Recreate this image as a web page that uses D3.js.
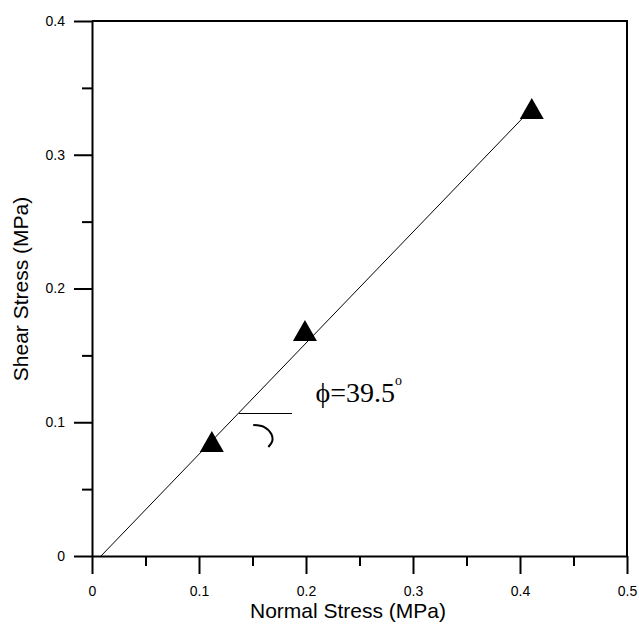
<!DOCTYPE html>
<html>
<head>
<meta charset="utf-8">
<script src="https://cdn.jsdelivr.net/npm/d3@7"></script>
<style>
  body { margin: 0; background: #fff; }
  svg { display: block; }
  .tick text { font-family: "Liberation Sans", Arial, sans-serif; font-size: 14px; fill: #000; }
</style>
</head>
<body>
<div id="chart"></div>
<script>
// measured points (normal stress, shear stress) in MPa
const normalStress = [0.112, 0.199, 0.411];
const shearStress = [0.083, 0.166, 0.332];

// failure envelope drawn through the points
const fitX = [0.0084, 0.402];
const fitY = [0, 0.327];

const xTicks = [0, 0.1, 0.2, 0.3, 0.4, 0.5];
const xTickLabels = ["0", "0.1", "0.2", "0.3", "0.4", "0.5"];
const xMinor = [0.05, 0.15, 0.25, 0.35, 0.45];
const yTicks = [0, 0.1, 0.2, 0.3, 0.4];
const yTickLabels = ["0", "0.1", "0.2", "0.3", "0.4"];
const yMinor = [0.05, 0.15, 0.25, 0.35];

// angle annotation (data units)
const angleLineX = [0.137, 0.1866];
const angleLineY = [0.1066, 0.1066];
const arcX = [0.1507, 0.161, 0.1676, 0.1685, 0.1648];
const arcY = [0.0979, 0.0964, 0.0912, 0.086, 0.0815];
const angleLabel = "\u03d5=39.5";

const margin = { top: 21, right: 12, bottom: 72, left: 92 };
const width = 639 - margin.left - margin.right;
const height = 628 - margin.top - margin.bottom;

const svg = d3.select("#chart")
  .append("svg")
  .attr("width", 639)
  .attr("height", 628)
  .append("g")
  .attr("transform", `translate(${margin.left},${margin.top})`);

const x = d3.scaleLinear().domain([0, 0.5]).range([0, width]);
const y = d3.scaleLinear().domain([0, 0.4]).range([height, 0]);

// frame top + right
svg.append("path")
  .attr("d", `M0,0H${width}V${height}`)
  .attr("fill", "none")
  .attr("stroke", "#000")
  .attr("stroke-width", 2);

// minor ticks
svg.append("g")
  .attr("transform", `translate(0,${height})`)
  .call(d3.axisBottom(x).tickValues(xMinor).tickSize(10).tickSizeOuter(0).tickFormat(""))
  .call(g => g.select(".domain").remove());
svg.append("g")
  .call(d3.axisLeft(y).tickValues(yMinor).tickSize(10).tickSizeOuter(0).tickFormat(""))
  .call(g => g.select(".domain").remove());

// major axes
svg.append("g")
  .attr("transform", `translate(0,${height})`)
  .call(d3.axisBottom(x).tickValues(xTicks).tickSize(18).tickSizeOuter(0).tickPadding(12)
    .tickFormat((d, i) => xTickLabels[i]));
svg.append("g")
  .call(d3.axisLeft(y).tickValues(yTicks).tickSize(18).tickSizeOuter(0).tickPadding(9)
    .tickFormat((d, i) => yTickLabels[i]));

svg.selectAll(".domain, .tick line")
  .attr("stroke", "#000")
  .attr("stroke-width", 2);

// axis titles
svg.append("text")
  .attr("x", 256)
  .attr("y", height + 62)
  .attr("text-anchor", "middle")
  .style("font-family", "'Liberation Sans', Arial, sans-serif")
  .style("font-size", "21px")
  .text("Normal Stress (MPa)");

svg.append("text")
  .attr("transform", "rotate(-90)")
  .attr("x", -268)
  .attr("y", -64)
  .attr("text-anchor", "middle")
  .style("font-family", "'Liberation Sans', Arial, sans-serif")
  .style("font-size", "21px")
  .text("Shear Stress (MPa)");

// fitted line
svg.append("path")
  .datum(fitX.map((d, i) => [d, fitY[i]]))
  .attr("fill", "none")
  .attr("stroke", "#000")
  .attr("stroke-width", 1)
  .attr("d", d3.line().x(d => x(d[0])).y(d => y(d[1])));

// data markers
svg.selectAll("path.pt")
  .data(normalStress.map((d, i) => [d, shearStress[i]]))
  .join("path")
  .attr("class", "pt")
  .attr("transform", d => `translate(${x(d[0])},${y(d[1])})`)
  .attr("d", d3.symbol(d3.symbolTriangle, 250))
  .attr("fill", "#000");

// angle annotation
svg.append("path")
  .datum(angleLineX.map((d, i) => [d, angleLineY[i]]))
  .attr("fill", "none")
  .attr("stroke", "#000")
  .attr("stroke-width", 1)
  .attr("shape-rendering", "crispEdges")
  .attr("d", d3.line().x(d => x(d[0])).y(d => y(d[1])));

svg.append("path")
  .datum(arcX.map((d, i) => [d, arcY[i]]))
  .attr("fill", "none")
  .attr("stroke", "#000")
  .attr("stroke-width", 2)
  .attr("d", d3.line().x(d => x(d[0])).y(d => y(d[1])).curve(d3.curveCatmullRom));

const lbl = svg.append("text")
  .attr("x", x(0.2088))
  .attr("y", y(0.1151))
  .style("font-family", "'Liberation Serif', 'Times New Roman', serif")
  .style("font-size", "28px");
lbl.append("tspan").text(angleLabel);
lbl.append("tspan")
  .attr("dy", -17)
  .style("font-size", "14px")
  .text("o");
</script>
</body>
</html>
